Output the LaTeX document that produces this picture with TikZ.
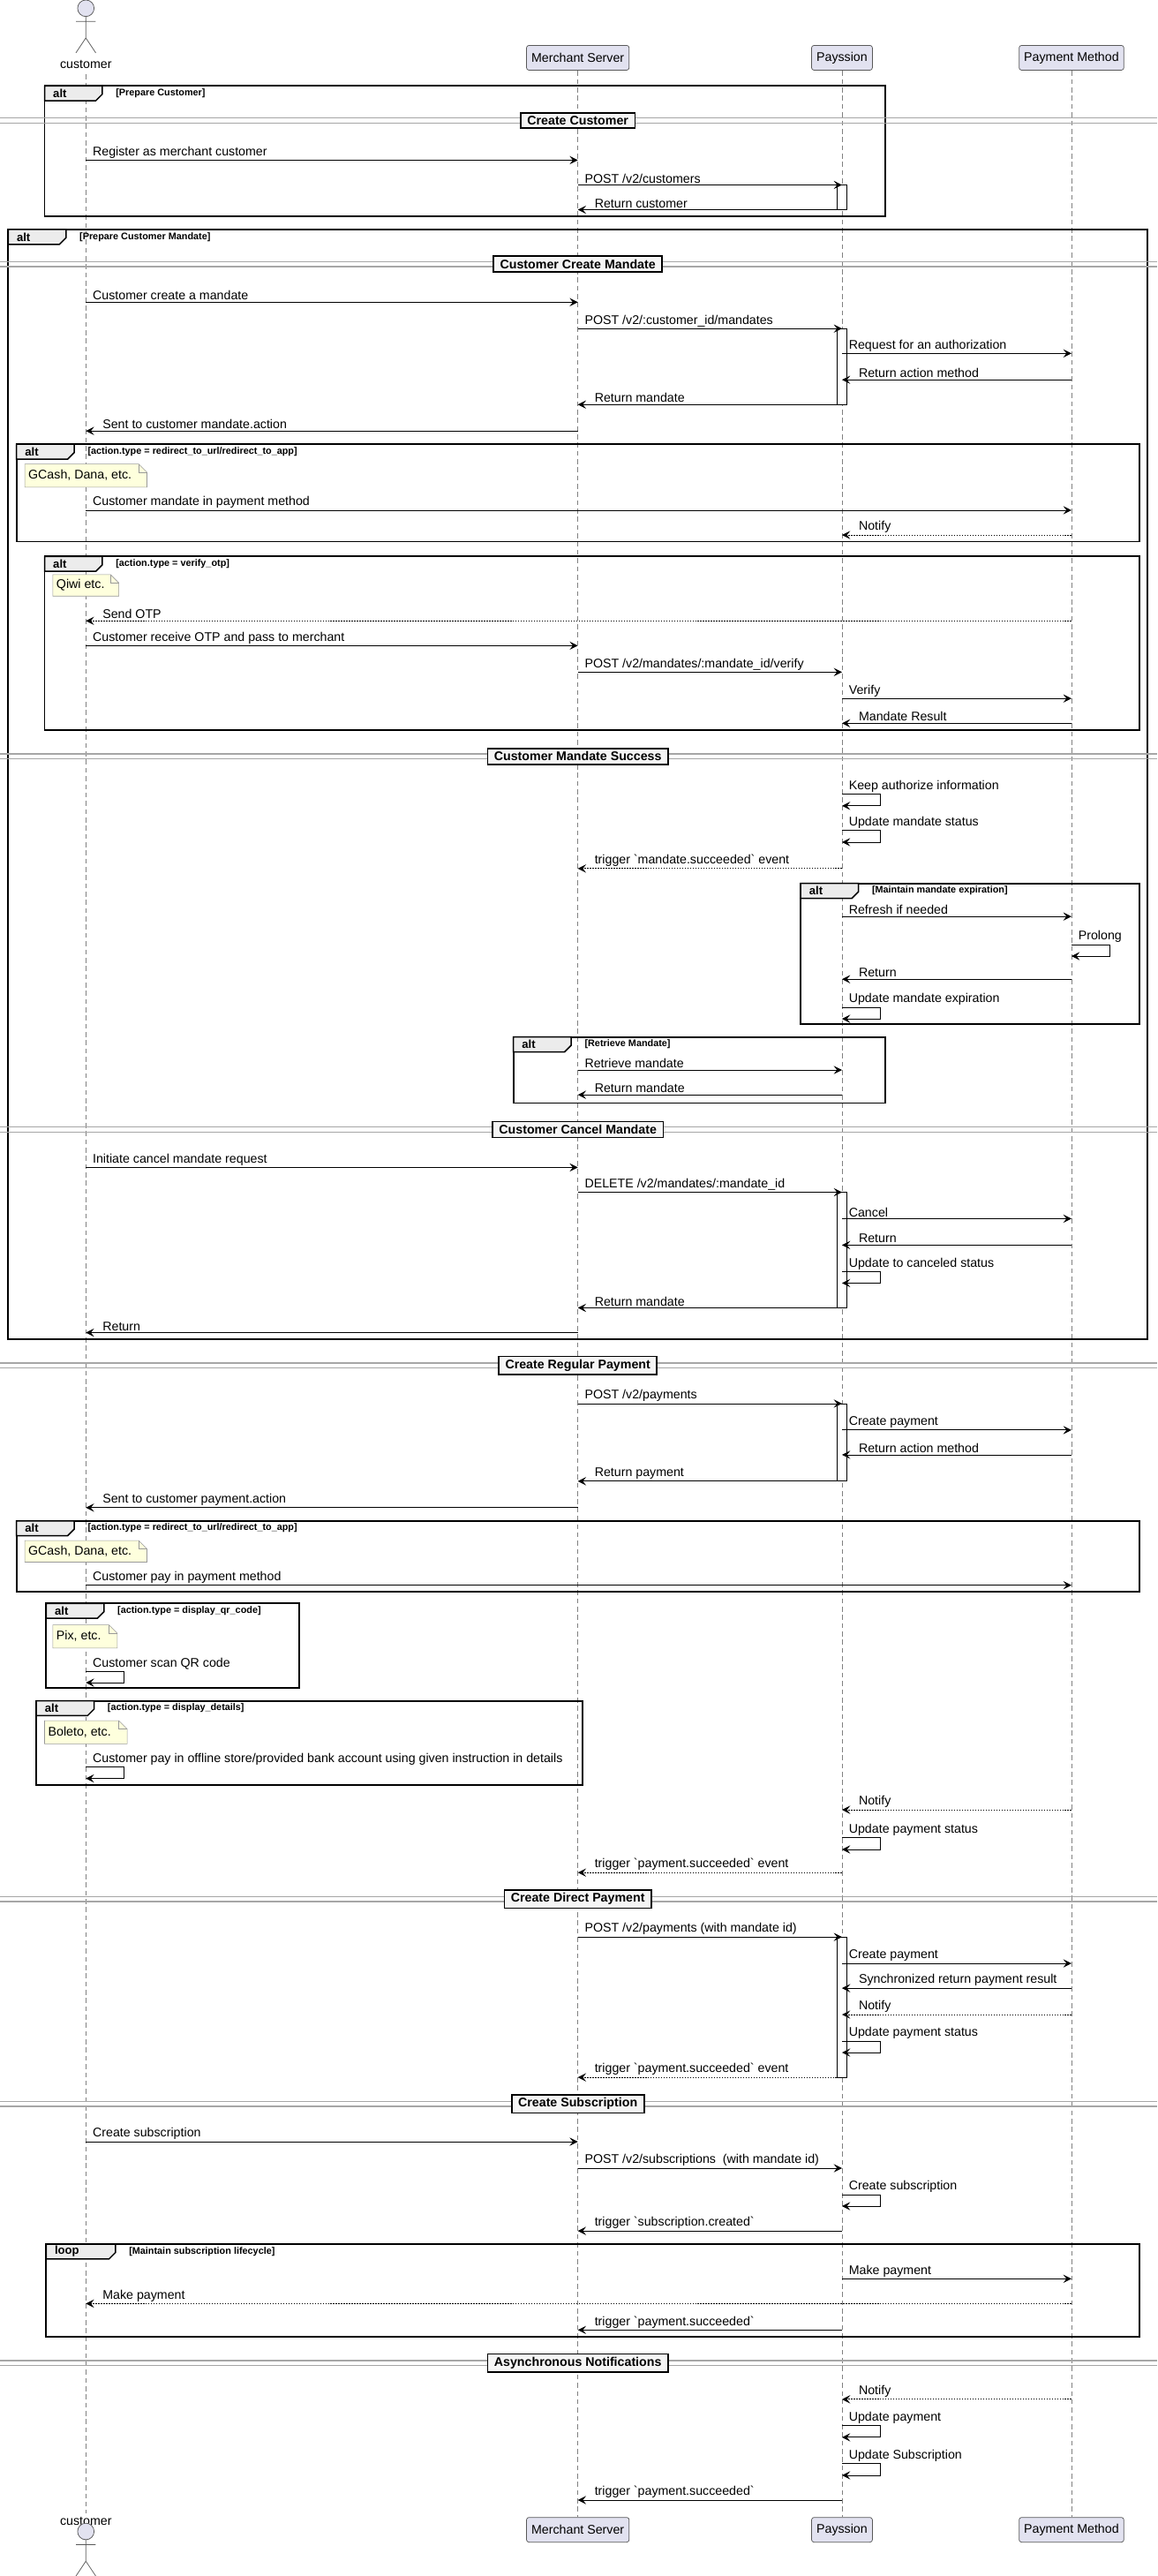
\documentclass[tikz,border=0pt]{standalone}
\usepackage{fontspec}
\setmainfont{Liberation Sans}
\usetikzlibrary{arrows.meta}
\definecolor{partfill}{RGB}{226,226,240}
\definecolor{notefill}{RGB}{254,255,221}
\newcommand{\bq}{\textasciigrave}
% messages
\newcommand{\rmsg}[5][]{\draw[msg,#1] (#2 |- 0,#4) -- (#3 |- 0,#4);
  \node[lbl,anchor=south west,xshift=3pt] at (#2 |- 0,#4) {#5};}
\newcommand{\lmsg}[5][]{\draw[msg,#1] (#2 |- 0,#4) -- (#3 |- 0,#4);
  \node[lbl,anchor=south west,xshift=9pt] at (#3 |- 0,#4) {#5};}
\newcommand{\selfmsg}[3]{\draw[msg] (#1 |- 0,#2) -- ++(23,0) -- ++(0,7) -- ++(-23,0);
  \node[lbl,anchor=south west,xshift=3pt] at (#1 |- 0,#2) {#3};}
% fragments
\newcommand{\frag}[7][35]{\draw[frame] (#2,#3) rectangle (#4,#5);
  \draw[thick,fill=gray!15] (#2,#3) -- ++(#1,0) -- ++(0,5) -- ++(-4,4) -- (#2,#3+9) -- cycle;
  \node[fraglbl,anchor=west] at (#2+5,#3+4.5) {#6};
  \node[condlbl,anchor=west] at (#2+#1+8,#3+4.5) {[#7]};}
\newcommand{\divider}[2]{\draw[gray!70,line width=0.8pt] (0,#1-1.5) -- (701,#1-1.5) (0,#1+1.5) -- (701,#1+1.5);
  \node[divbox] at (350,#1) {#2};}
\newcommand{\notebox}[5]{\draw[gray!80,fill=notefill,line width=0.3pt] (#1,#2) -- (#3-5,#2) -- (#3,#2+5) -- (#3,#4) -- (#1,#4) -- cycle;
  \draw[gray!80,line width=0.3pt] (#3-5,#2) -- (#3-5,#2+5) -- (#3,#2+5);
  \node[lbl,anchor=west] at (#1+1,#2/2+#4/2) {#5};}
\newcommand{\actbar}[3]{\draw[fill=white,line width=0.4pt] (#1 |- 0,#2) ++(-3,0) rectangle ++(6,#3-#2);}
\newcommand{\actor}[1]{\draw[gray!70!black,fill=partfill,line width=0.4pt] (52,#1) circle (5);
  \draw[gray!70!black,line width=0.4pt] (52,#1+5) -- (52,#1+18) (46,#1+8) -- (58,#1+8) (46,#1+27) -- (52,#1+18) -- (58,#1+27);}

\begin{document}
\begin{tikzpicture}[x=1pt,y=-1pt,
    lbl/.style={font=\fontsize{7.6}{8}\selectfont,inner sep=1pt},
    msg/.style={line width=0.45pt,-{Stealth[length=5pt,width=5pt,inset=2pt]}},
    dot/.style={dash pattern=on 0.8pt off 0.8pt},
    frame/.style={line width=1pt},
    fraglbl/.style={font=\fontsize{7}{8}\selectfont\bfseries,inner sep=0pt},
    condlbl/.style={font=\fontsize{5.8}{6}\selectfont\bfseries,inner sep=0pt},
    divbox/.style={draw,line width=0.9pt,fill=gray!8,font=\fontsize{7.6}{8}\selectfont\bfseries,inner xsep=4pt,inner ysep=2pt},
    part/.style={draw=gray!70!black,fill=partfill,rounded corners=1.5pt,line width=0.4pt,font=\fontsize{7.6}{8}\selectfont,minimum height=15pt,inner xsep=3pt},
    lifeline/.style={gray,line width=0.4pt,dash pattern=on 3pt off 2pt},
  ]
\useasboundingbox (0,0) rectangle (701,1560);
% lifelines
\coordinate (cust) at (52,0);
\coordinate (merch) at (350,0);
\coordinate (pays) at (510,0);
\coordinate (pm) at (649,0);
\draw[lifeline] (52,45) -- (52,1522);
\draw[lifeline] (350,43) -- (350,1524);
\draw[lifeline] (510,43) -- (510,1524);
\draw[lifeline] (649,43) -- (649,1524);
% participants
\actor{5}
\node[lbl] (custtop) at (52,39) {customer};
\node[part] (merchtop) at (350,35) {Merchant Server};
\node[part] (paystop) at (510,35) {Payssion};
\node[part] (pmtop) at (649,35) {Payment Method};
\node[lbl] (custbot) at (52,1527) {customer};
\actor{1533}
\node[part] (merchbot) at (350,1532) {Merchant Server};
\node[part] (paysbot) at (510,1532) {Payssion};
\node[part] (pmbot) at (649,1532) {Payment Method};
% fragments
\frag{27}{52}{536}{131}{alt}{Prepare Customer}
\frag{5}{139}{695}{811}{alt}{Prepare Customer Mandate}
\frag{10}{269}{690}{328}{alt}{action.type = redirect\_to\_url/redirect\_to\_app}
\frag{27}{337}{690}{442}{alt}{action.type = verify\_otp}
\frag{485}{535}{690}{620}{alt}{Maintain mandate expiration}
\frag{311}{628}{536}{668}{alt}{Retrieve Mandate}
\frag{10}{921}{690}{964}{alt}{action.type = redirect\_to\_url/redirect\_to\_app}
\frag{28}{971}{181}{1022}{alt}{action.type = display\_qr\_code}
\frag{22}{1030}{353}{1081}{alt}{action.type = display\_details}
\frag[42]{28}{1359}{690}{1415}{loop}{Maintain subscription lifecycle}
% notes
\notebox{15}{281}{89}{295}{GCash, Dana, etc.}
\notebox{32}{348}{72}{361}{Qiwi etc.}
\notebox{15}{933}{89}{946}{GCash, Dana, etc.}
\notebox{32}{984}{71}{998}{Pix, etc.}
\notebox{27}{1042}{77}{1056}{Boleto, etc.}
% dividers
\divider{73}{Create Customer}
\divider{160}{Customer Create Mandate}
\divider{458}{Customer Mandate Success}
\divider{684}{Customer Cancel Mandate}
\divider{827}{Create Regular Payment}
\divider{1150}{Create Direct Payment}
\divider{1274}{Create Subscription}
\divider{1431}{Asynchronous Notifications}
% activations
\actbar{pays}{112}{127}
\actbar{pays}{199}{245}
\actbar{pays}{722}{792}
\actbar{pays}{850}{897}
\actbar{pays}{1173}{1258}
% create customer
\rmsg{cust}{merch}{97}{Register as merchant customer}
\rmsg{merch}{pays}{112}{POST /v2/customers}
\lmsg{pays}{merch}{127}{Return customer}
% create mandate
\rmsg{cust}{merch}{183}{Customer create a mandate}
\rmsg{merch}{pays}{199}{POST /v2/:customer\_id/mandates}
\rmsg{pays}{pm}{214}{Request for an authorization}
\lmsg{pm}{pays}{230}{Return action method}
\lmsg{pays}{merch}{245}{Return mandate}
\lmsg{merch}{cust}{261}{Sent to customer mandate.action}
\rmsg{cust}{pm}{309}{Customer mandate in payment method}
\lmsg[dot]{pm}{pays}{324}{Notify}
\lmsg[dot]{pm}{cust}{376}{Send OTP}
\rmsg{cust}{merch}{391}{Customer receive OTP and pass to merchant}
\rmsg{merch}{pays}{407}{POST /v2/mandates/:mandate\_id/verify}
\rmsg{pays}{pm}{423}{Verify}
\lmsg{pm}{pays}{438}{Mandate Result}
% mandate success
\selfmsg{pays}{481}{Keep authorize information}
\selfmsg{pays}{503}{Update mandate status}
\lmsg[dot]{pays}{merch}{526}{trigger \bq mandate.succeeded\bq{} event}
\rmsg{pays}{pm}{555}{Refresh if needed}
\selfmsg{pm}{572}{Prolong}
\lmsg{pm}{pays}{593}{Return}
\selfmsg{pays}{610}{Update mandate expiration}
\rmsg{merch}{pays}{648}{Retrieve mandate}
\lmsg{pays}{merch}{663}{Return mandate}
% cancel mandate
\rmsg{cust}{merch}{707}{Initiate cancel mandate request}
\rmsg{merch}{pays}{722}{DELETE /v2/mandates/:mandate\_id}
\rmsg{pays}{pm}{738}{Cancel}
\lmsg{pm}{pays}{754}{Return}
\selfmsg{pays}{770}{Update to canceled status}
\lmsg{pays}{merch}{792}{Return mandate}
\lmsg{merch}{cust}{807}{Return}
% regular payment
\rmsg{merch}{pays}{850}{POST /v2/payments}
\rmsg{pays}{pm}{866}{Create payment}
\lmsg{pm}{pays}{881}{Return action method}
\lmsg{pays}{merch}{897}{Return payment}
\lmsg{merch}{cust}{913}{Sent to customer payment.action}
\rmsg{cust}{pm}{960}{Customer pay in payment method}
\selfmsg{cust}{1012}{Customer scan QR code}
\selfmsg{cust}{1070}{Customer pay in offline store/provided bank account using given instruction in details}
\lmsg[dot]{pm}{pays}{1096}{Notify}
\selfmsg{pays}{1113}{Update payment status}
\lmsg[dot]{pays}{merch}{1134}{trigger \bq payment.succeeded\bq{} event}
% direct payment
\rmsg{merch}{pays}{1173}{POST /v2/payments (with mandate id)}
\rmsg{pays}{pm}{1189}{Create payment}
\lmsg{pm}{pays}{1204}{Synchronized return payment result}
\lmsg[dot]{pm}{pays}{1220}{Notify}
\selfmsg{pays}{1236}{Update payment status}
\lmsg[dot]{pays}{merch}{1258}{trigger \bq payment.succeeded\bq{} event}
% subscription
\rmsg{cust}{merch}{1297}{Create subscription}
\rmsg{merch}{pays}{1313}{POST /v2/subscriptions\ \ (with mandate id)}
\selfmsg{pays}{1329}{Create subscription}
\lmsg{pays}{merch}{1351}{trigger \bq subscription.created\bq}
\rmsg{pays}{pm}{1380}{Make payment}
\lmsg[dot]{pm}{cust}{1395}{Make payment}
\lmsg{pays}{merch}{1411}{trigger \bq payment.succeeded\bq}
% notifications
\lmsg[dot]{pm}{pays}{1453}{Notify}
\selfmsg{pays}{1469}{Update payment}
\selfmsg{pays}{1492}{Update Subscription}
\lmsg{pays}{merch}{1514}{trigger \bq payment.succeeded\bq}
\end{tikzpicture}
\end{document}
